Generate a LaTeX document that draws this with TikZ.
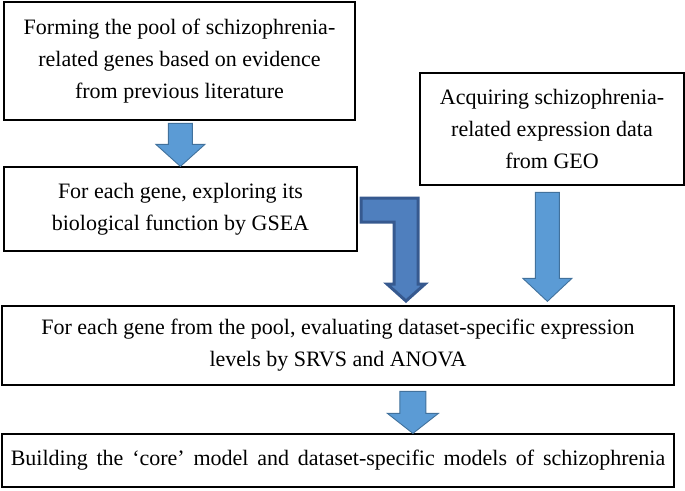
\documentclass[tikz,border=0pt]{standalone}
\usepackage{fontspec}
\setmainfont{Liberation Serif}
\usepackage{xcolor}
\usepackage{tikz}
\usetikzlibrary{calc}

\definecolor{arrowblue}{HTML}{5B9BD5}
\definecolor{arrowline}{HTML}{41719C}
\definecolor{bentblue}{HTML}{4F7FBE}
\definecolor{bentline}{HTML}{36598F}

\newcommand{\widewords}{\spaceskip=0.4em plus 0.1em\relax}

\tikzset{
  stepbox/.style={draw=black, line width=1.2pt, align=center, inner sep=0pt,
    font=\fontsize{22}{32}\selectfont},
  lightarrow/.style={fill=arrowblue, draw=arrowline, line width=0.9pt, line join=miter},
  bentarrow/.style={fill=bentblue, draw=bentline, line width=3pt, line join=miter},
  pics/downarrow/.style n args={4}{code={
    \draw[pic actions] (-#3,-#1) -- (#3,-#1) -- (#3,-#2) -- (#4,-#2) -- (0,0)
      -- (-#4,-#2) -- (-#3,-#2) -- cycle;
  }}
}

\begin{document}
\begin{tikzpicture}[x=1pt, y=-1pt]
\useasboundingbox (0,0) rectangle (685,490);

\node[stepbox, minimum width=351pt, minimum height=118pt] (pool) at (179.5,61)
  {Forming the pool of schizophrenia-\\related genes based on evidence\\from previous literature};
\node[stepbox, minimum width=353pt, minimum height=84pt] (gsea) at (180.5,209)
  {For each gene, exploring its\\biological function by GSEA};
\node[stepbox, minimum width=264pt, minimum height=112pt] (geo) at (552,129)
  {Acquiring schizophrenia-\\related expression data\\from GEO};
\node[stepbox, minimum width=672pt, minimum height=79pt] (srvs) at (338,345.5)
  {For each gene from the pool, evaluating dataset-specific expression\\levels by SRVS and ANOVA};
\node[stepbox, minimum width=672pt, minimum height=53pt] (model) at (338,460.5)
  {\widewords Building the ‘core’ model and dataset-specific models of schizophrenia};

% arrow tips sit on the box below
\coordinate (tippool) at ($(gsea.north west)+(177,0)$);
\coordinate (tipgeo) at ($(srvs.north west)+(546,-4)$);
\coordinate (tipsrvs) at ($(model.north west)+(411.5,0)$);

\pic[lightarrow] at (tippool) {downarrow={43}{22}{12}{24.5}};
\pic[lightarrow] at (tipgeo) {downarrow={109}{23}{12}{24.5}};
\pic[lightarrow] at (tipsrvs) {downarrow={42}{20}{13}{25.5}};

\draw[bentarrow] (361,198) -- (418,198) -- (418,284) -- (425,284) -- (406,301)
  -- (387,284) -- (394,284) -- (394,222) -- (361,222) -- cycle;
\end{tikzpicture}
\end{document}
